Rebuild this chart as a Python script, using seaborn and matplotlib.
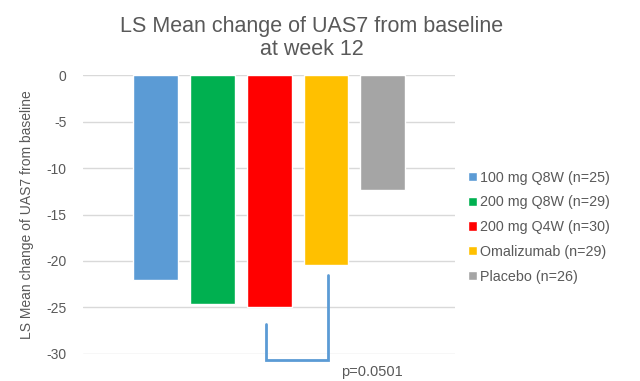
import matplotlib
matplotlib.use('Agg')
import matplotlib.pyplot as plt
import seaborn as sns
import pandas as pd

groups = ['100 mg Q8W (n=25)', '200 mg Q8W (n=29)', '200 mg Q4W (n=30)',
          'Omalizumab (n=29)', 'Placebo (n=26)']
ls_mean_change = [-22.0, -24.6, -24.9, -20.4, -12.4]
bar_colors = ['#5B9BD5', '#00B050', '#FF0000', '#FFC000', '#A5A5A5']
y_ticks = [0, -5, -10, -15, -20, -25, -30]

# comparison bracket between 200 mg Q4W and Omalizumab
bracket_x = [1.94, 1.94, 3.03, 3.03]
bracket_y = [-26.8, -30.7, -30.7, -21.5]
p_label = 'p=0.0501'

sns.set_style('white')
plt.rcParams['font.family'] = ['Liberation Sans', 'DejaVu Sans']
plt.rcParams['axes.unicode_minus'] = False
text_color = '#595959'

df = pd.DataFrame({'group': groups, 'change': ls_mean_change})

fig = plt.figure(figsize=(6.4, 3.81), dpi=100)
ax = fig.add_axes([0.13, 0.071, 0.581, 0.732])

sns.barplot(data=df, x='group', y='change', hue='group', palette=bar_colors,
            width=0.79, saturation=1, dodge=False, legend=True, ax=ax)

ax.set_ylim(-30, 0)
ax.set_xlim(-1.27, 5.27)
ax.set_yticks(y_ticks)
ax.set_xticks([])
ax.set_xlabel('')
ax.set_ylabel('LS Mean change of UAS7 from baseline', fontsize=10, color=text_color, labelpad=9)
ax.tick_params(axis='y', labelsize=10, colors=text_color, length=0, pad=12)
ax.yaxis.grid(True, color='#D9D9D9', linewidth=1)
ax.set_axisbelow(True)
for s in ax.spines.values():
    s.set_visible(False)

ax.plot(bracket_x, bracket_y, color='#5B9BD5', linewidth=2, clip_on=False, solid_joinstyle='miter')
ax.text(3.26, -31.9, p_label, fontsize=10.5, color=text_color, va='center', ha='left')

fig.text(0.487, 0.9, 'LS Mean change of UAS7 from baseline\nat week 12', fontsize=15.5,
         color=text_color, ha='center', va='center', linespacing=1.15)

leg = ax.legend(loc='center left', bbox_to_anchor=(1.02, 0.455), frameon=False,
                fontsize=10.3, handlelength=0.6, handleheight=0.6, handletextpad=0.25,
                labelspacing=0.75, borderaxespad=0)
for t in leg.get_texts():
    t.set_color(text_color)

fig.savefig('out.png', dpi=100)
